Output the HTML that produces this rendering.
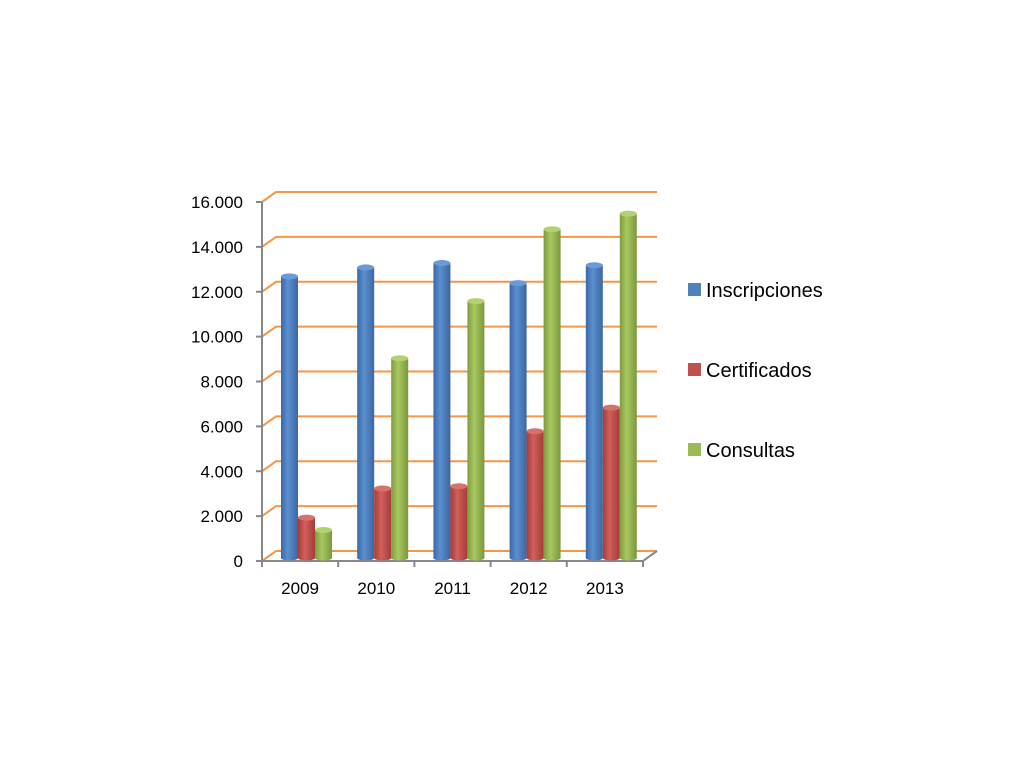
<!DOCTYPE html>
<html><head><meta charset="utf-8"><style>
html,body{margin:0;padding:0;background:#fff;}
svg{display:block;font-family:"Liberation Sans",sans-serif;}
</style></head><body>
<svg id="chart" width="1024" height="780" viewBox="0 0 1024 780" xmlns="http://www.w3.org/2000/svg">
<defs>
<linearGradient id="gb" x1="0" x2="1"><stop offset="0" stop-color="#3a68a6"/><stop offset="0.4" stop-color="#5b8fd0"/><stop offset="1" stop-color="#3b679f"/></linearGradient>
<linearGradient id="gr" x1="0" x2="1"><stop offset="0" stop-color="#a83a37"/><stop offset="0.4" stop-color="#d0605c"/><stop offset="1" stop-color="#a53b38"/></linearGradient>
<linearGradient id="gg" x1="0" x2="1"><stop offset="0" stop-color="#7f9c3d"/><stop offset="0.4" stop-color="#a8c862"/><stop offset="1" stop-color="#7c983c"/></linearGradient>
</defs>
<g id="grid"></g>
<g id="axes"></g>
<g id="bars"></g>
<g id="legend"></g>
</svg>
<script>
const categories = ["2009","2010","2011","2012","2013"];
const seriesNames = ["Inscripciones","Certificados","Consultas"];
const inscripciones = [12550,12950,13150,12250,13050];
const certificados = [1800,3100,3200,5650,6700];
const consultas = [1250,8900,11450,14650,15350];
const yTicks = [0,2000,4000,6000,8000,10000,12000,14000,16000];
const yTickLabels = ["0","2.000","4.000","6.000","8.000","10.000","12.000","14.000","16.000"];

const NS="http://www.w3.org/2000/svg";
function mk(tag,attrs,parent){const e=document.createElementNS(NS,tag);for(const k in attrs)e.setAttribute(k,attrs[k]);parent.appendChild(e);return e;}
const x0=262, x1=643, y0=561, y1=202, dx=14, dy=10;
function y(v){return y0-(v/16000)*(y0-y1);}
const catW=(x1-x0)/categories.length;
function xc(i){return x0+i*catW;}

const grid=document.getElementById('grid');
yTicks.forEach((t,i)=>{
  const yy=y(t);
  const l=mk('polyline',{points:`${x0},${yy} ${x0+dx},${yy-dy} ${x1+dx},${yy-dy}`,fill:'none',stroke:'#f79646','stroke-width':2},grid);
  
  
});
const axes=document.getElementById('axes');
let a=mk('line',{x1:x0,y1:y1,x2:x0,y2:y0,stroke:'#888','stroke-width':2},axes);

a=mk('polyline',{points:`${x0},${y0} ${x1},${y0} ${x1+dx},${y0-dy}`,fill:'none',stroke:'#888','stroke-width':2},axes);

yTicks.forEach((t,i)=>{
  const yy=y(t);
  mk('line',{x1:x0-6,y1:yy,x2:x0,y2:yy,stroke:'#888','stroke-width':2},axes);
  const tx=mk('text',{x:243,y:yy+6,'text-anchor':'end','font-size':17,fill:'#000'},axes);
  tx.textContent=yTickLabels[i];
  
  
});
categories.forEach((c,i)=>{
  mk('line',{x1:xc(i),y1:y0,x2:xc(i),y2:y0+6,stroke:'#888','stroke-width':2},axes);
  const tx=mk('text',{x:xc(i)+catW/2,y:y0+33,'text-anchor':'middle','font-size':17,fill:'#000'},axes);
  tx.textContent=c;
  
  
});
mk('line',{x1:x1,y1:y0,x2:x1,y2:y0+6,stroke:'#888','stroke-width':2},axes);

const bars=document.getElementById('bars');
const series=[inscripciones,certificados,consultas];
const grads=['url(#gb)','url(#gr)','url(#gg)'];
const tops=['#6a9bd8','#d8706c','#b4d172'];
const bw=17, base=y0-3;
categories.forEach((c,i)=>{
  series.forEach((s,j)=>{
    const bx=xc(i)+19+j*bw;
    const top=y(s[i])-3;
    const g=mk('g',{},bars);
    
    
    mk('rect',{x:bx,y:top,width:bw,height:base-top,fill:grads[j]},g);
    mk('ellipse',{cx:bx+bw/2,cy:base,rx:bw/2,ry:2.5,fill:grads[j]},g);
    mk('ellipse',{cx:bx+bw/2,cy:top,rx:bw/2,ry:3,fill:tops[j]},g);
  });
});

const legend=document.getElementById('legend');
const lcol=['#4f81bd','#c0504d','#9bbb59'];
seriesNames.forEach((n,j)=>{
  const ly=283+j*80;
  const g=mk('g',{},legend);
  
  
  mk('rect',{x:688,y:ly,width:13,height:13,fill:lcol[j]},g);
  const t=mk('text',{x:706,y:ly+14,'font-size':20,fill:'#000'},g);
  t.textContent=n;
});
</script>
</body></html>
